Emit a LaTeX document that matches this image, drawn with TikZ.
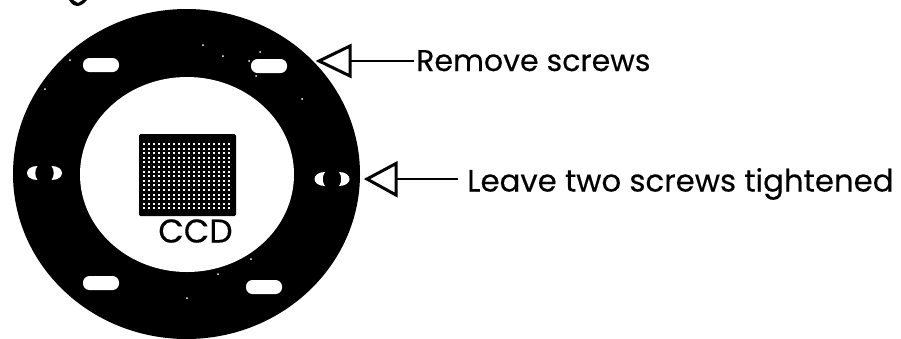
\documentclass[tikz,border=0pt]{standalone}
\usepackage{fontspec}
\setmainfont{Poppins}[FakeBold=0.35]
\begin{document}
\begin{tikzpicture}[x=1pt,y=-1pt,
  slot/.style={fill=white,rounded corners=6.5pt},
  lbl/.style={inner sep=0pt,anchor=base west},
  tip/.style={draw=black,line width=3pt,fill=white,line join=miter},
  lead/.style={draw=black,line width=2.4pt}]
\useasboundingbox (0,0) rectangle (901,338);
\fill[black] (186.5,174) ellipse (173.5 and 165);
\fill[white] (187,174.5) ellipse (107 and 97.5);
\foreach \x/\y in {101/65,269/66,101/283,264/287}
  \fill[slot] (\x-18,\y-7) rectangle (\x+18,\y+7);
\foreach \x/\y in {44.5/173,332/179}{
  \fill[white] (\x-7,\y-7) .. controls (\x-21,\y-7) and (\x-21,\y+7) .. (\x-7,\y+7)
     .. controls (\x-10,\y+3) and (\x-10,\y-3) .. cycle;
  \fill[white] (\x+7,\y-7) .. controls (\x+21,\y-7) and (\x+21,\y+7) .. (\x+7,\y+7)
     .. controls (\x+10,\y+3) and (\x+10,\y-3) .. cycle;
}
\foreach \x/\y in {203/45,223/56,260/52,249/61,45/89,70/60,302/99,187/298,218/274,251/259,256/76}
  \fill[white] (\x,\y) circle (1);
\fill[black,rounded corners=1.5pt] (139,134) rectangle (236,216);
\foreach \i in {0,...,14}
  \draw[white,line width=2pt,dash pattern=on 2.2pt off 2.8pt] (143,{144+\i*4.6}) -- (232,{144+\i*4.6});
\fill[black] (69,0) .. controls (72,5) and (75,6) .. (77,6) .. controls (80,6) and (84,4) .. (87,0) -- (83,0) -- (78,3) -- (73,0) -- cycle;
\node[inner sep=0pt,font=\fontsize{33}{36}\selectfont] (ccd) at (195.5,231) {CCD};
\node[lbl,font=\fontsize{30}{33}\selectfont] (rm) at (416,71) {Remove screws};
\node[lbl,font=\fontsize{30.8}{34}\selectfont] (lv) at (467,191.5) {Leave two screws tightened};
\coordinate (a1) at (350,61);
\coordinate (a2) at (396,179);
\draw[lead] (a1) -- ([xshift=-2pt]rm.west |- a1);
\draw[lead] (a2) -- ([xshift=-9pt]lv.west |- a2);
\draw[tip] (319,61) -- (350,46) -- (350,76) -- cycle;
\draw[tip] (367,179) -- (396,163.5) -- (396,195) -- cycle;
\end{tikzpicture}
\end{document}
